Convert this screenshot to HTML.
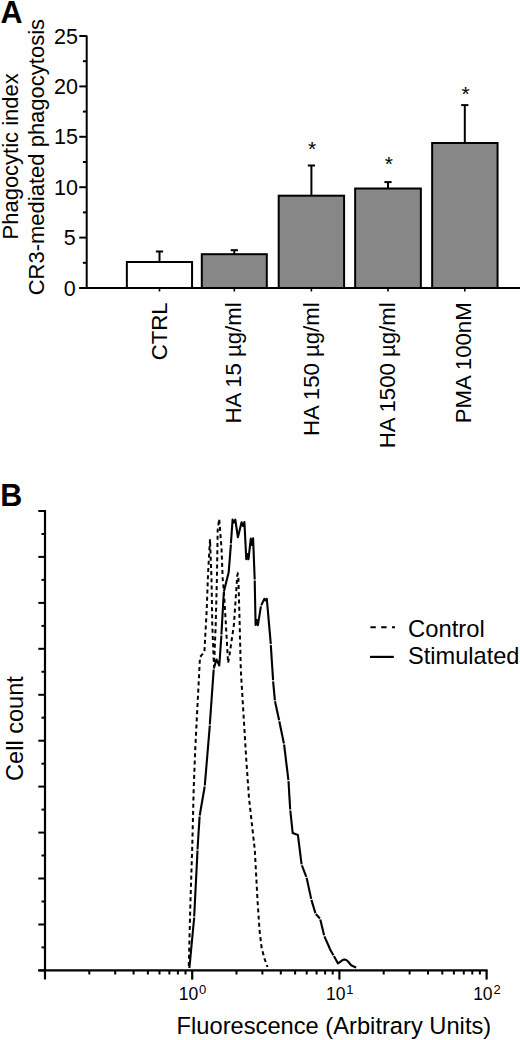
<!DOCTYPE html>
<html><head><meta charset="utf-8"><title>Figure</title>
<style>html,body{margin:0;padding:0;background:#fff;}svg{display:block;}</style></head>
<body><svg width="520" height="1040" viewBox="0 0 520 1040">
<rect width="520" height="1040" fill="#fff"/>
<text x="0.6" y="22.7" font-family="'Liberation Sans', sans-serif" font-weight="bold" font-size="30.5">A</text>
<line x1="86.7" y1="35.5" x2="86.7" y2="289" stroke="#000" stroke-width="2"/>
<line x1="79.3" y1="288.0" x2="86.7" y2="288.0" stroke="#000" stroke-width="2"/>
<text x="75.6" y="295.5" font-family="'Liberation Sans', sans-serif" font-size="21.5" text-anchor="end">0</text>
<line x1="82.9" y1="262.8" x2="86.7" y2="262.8" stroke="#000" stroke-width="2"/>
<line x1="79.3" y1="237.6" x2="86.7" y2="237.6" stroke="#000" stroke-width="2"/>
<text x="75.6" y="245.1" font-family="'Liberation Sans', sans-serif" font-size="21.5" text-anchor="end">5</text>
<line x1="82.9" y1="212.4" x2="86.7" y2="212.4" stroke="#000" stroke-width="2"/>
<line x1="79.3" y1="187.2" x2="86.7" y2="187.2" stroke="#000" stroke-width="2"/>
<text x="78.0" y="194.7" font-family="'Liberation Sans', sans-serif" font-size="21.5" text-anchor="end">10</text>
<line x1="82.9" y1="162.0" x2="86.7" y2="162.0" stroke="#000" stroke-width="2"/>
<line x1="79.3" y1="136.8" x2="86.7" y2="136.8" stroke="#000" stroke-width="2"/>
<text x="78.0" y="144.3" font-family="'Liberation Sans', sans-serif" font-size="21.5" text-anchor="end">15</text>
<line x1="82.9" y1="111.6" x2="86.7" y2="111.6" stroke="#000" stroke-width="2"/>
<line x1="79.3" y1="86.4" x2="86.7" y2="86.4" stroke="#000" stroke-width="2"/>
<text x="78.0" y="93.9" font-family="'Liberation Sans', sans-serif" font-size="21.5" text-anchor="end">20</text>
<line x1="82.9" y1="61.2" x2="86.7" y2="61.2" stroke="#000" stroke-width="2"/>
<line x1="79.3" y1="36.0" x2="86.7" y2="36.0" stroke="#000" stroke-width="2"/>
<text x="78.0" y="43.5" font-family="'Liberation Sans', sans-serif" font-size="21.5" text-anchor="end">25</text>
<line x1="79.3" y1="288.0" x2="520" y2="288.0" stroke="#000" stroke-width="2"/>
<line x1="159.5" y1="262.0" x2="159.5" y2="251.5" stroke="#000" stroke-width="2"/>
<line x1="155.9" y1="251.5" x2="163.1" y2="251.5" stroke="#000" stroke-width="2"/>
<rect x="126.85" y="262.0" width="65.2" height="26.0" fill="#fff" stroke="#000" stroke-width="2"/>
<line x1="159.5" y1="288.0" x2="159.5" y2="291.5" stroke="#000" stroke-width="1.6"/>
<text transform="translate(167.2,302.3) rotate(-90)" font-family="'Liberation Sans', sans-serif" font-size="22.2" text-anchor="end">CTRL</text>
<line x1="234.3" y1="254.2" x2="234.3" y2="250.2" stroke="#000" stroke-width="2"/>
<line x1="230.7" y1="250.2" x2="237.9" y2="250.2" stroke="#000" stroke-width="2"/>
<rect x="201.8" y="254.2" width="65.0" height="33.8" fill="#878787" stroke="#000" stroke-width="2"/>
<line x1="234.3" y1="288.0" x2="234.3" y2="291.5" stroke="#000" stroke-width="1.6"/>
<text transform="translate(240.6,302.3) rotate(-90)" font-family="'Liberation Sans', sans-serif" font-size="22.2" text-anchor="end">HA 15 µg/ml</text>
<line x1="311.4" y1="195.7" x2="311.4" y2="165.5" stroke="#000" stroke-width="2"/>
<line x1="307.8" y1="165.5" x2="315.0" y2="165.5" stroke="#000" stroke-width="2"/>
<rect x="278.7" y="195.7" width="65.4" height="92.3" fill="#878787" stroke="#000" stroke-width="2"/>
<line x1="311.4" y1="288.0" x2="311.4" y2="291.5" stroke="#000" stroke-width="1.6"/>
<text transform="translate(318.6,302.3) rotate(-90)" font-family="'Liberation Sans', sans-serif" font-size="22.2" text-anchor="end">HA 150 µg/ml</text>
<text x="312.2" y="155.7" font-family="'Liberation Sans', sans-serif" font-size="21" text-anchor="middle">*</text>
<line x1="388.0" y1="188.5" x2="388.0" y2="182.1" stroke="#000" stroke-width="2"/>
<line x1="384.4" y1="182.1" x2="391.6" y2="182.1" stroke="#000" stroke-width="2"/>
<rect x="355.15" y="188.5" width="65.7" height="99.5" fill="#878787" stroke="#000" stroke-width="2"/>
<line x1="388.0" y1="288.0" x2="388.0" y2="291.5" stroke="#000" stroke-width="1.6"/>
<text transform="translate(394.5,302.3) rotate(-90)" font-family="'Liberation Sans', sans-serif" font-size="22.2" text-anchor="end">HA 1500 µg/ml</text>
<text x="388.8" y="171.4" font-family="'Liberation Sans', sans-serif" font-size="21" text-anchor="middle">*</text>
<line x1="464.8" y1="143.0" x2="464.8" y2="105.1" stroke="#000" stroke-width="2"/>
<line x1="461.2" y1="105.1" x2="468.4" y2="105.1" stroke="#000" stroke-width="2"/>
<rect x="432.15" y="143.0" width="65.4" height="145.0" fill="#878787" stroke="#000" stroke-width="2"/>
<line x1="464.8" y1="288.0" x2="464.8" y2="291.5" stroke="#000" stroke-width="1.6"/>
<text transform="translate(470.6,302.3) rotate(-90)" font-family="'Liberation Sans', sans-serif" font-size="22.2" text-anchor="end">PMA 100nM</text>
<text x="465.6" y="101.0" font-family="'Liberation Sans', sans-serif" font-size="21" text-anchor="middle">*</text>
<text transform="translate(18.2,239.5) rotate(-90)" font-family="'Liberation Sans', sans-serif" font-size="22">Phagocytic index</text>
<text transform="translate(43.6,295.3) rotate(-90)" font-family="'Liberation Sans', sans-serif" font-size="22">CR3-mediated phagocytosis</text>
<text x="0.3" y="505.8" font-family="'Liberation Sans', sans-serif" font-weight="bold" font-size="30.5">B</text>
<line x1="45.0" y1="510.0" x2="45.0" y2="979.6" stroke="#000" stroke-width="2.2"/>
<line x1="38.3" y1="511.0" x2="45.0" y2="511.0" stroke="#000" stroke-width="2"/>
<line x1="41.5" y1="534.0" x2="45.0" y2="534.0" stroke="#000" stroke-width="2"/>
<line x1="38.3" y1="556.9" x2="45.0" y2="556.9" stroke="#000" stroke-width="2"/>
<line x1="41.5" y1="579.9" x2="45.0" y2="579.9" stroke="#000" stroke-width="2"/>
<line x1="38.3" y1="602.9" x2="45.0" y2="602.9" stroke="#000" stroke-width="2"/>
<line x1="41.5" y1="625.9" x2="45.0" y2="625.9" stroke="#000" stroke-width="2"/>
<line x1="38.3" y1="648.8" x2="45.0" y2="648.8" stroke="#000" stroke-width="2"/>
<line x1="41.5" y1="671.8" x2="45.0" y2="671.8" stroke="#000" stroke-width="2"/>
<line x1="38.3" y1="694.8" x2="45.0" y2="694.8" stroke="#000" stroke-width="2"/>
<line x1="41.5" y1="717.7" x2="45.0" y2="717.7" stroke="#000" stroke-width="2"/>
<line x1="38.3" y1="740.7" x2="45.0" y2="740.7" stroke="#000" stroke-width="2"/>
<line x1="41.5" y1="763.7" x2="45.0" y2="763.7" stroke="#000" stroke-width="2"/>
<line x1="38.3" y1="786.6" x2="45.0" y2="786.6" stroke="#000" stroke-width="2"/>
<line x1="41.5" y1="809.6" x2="45.0" y2="809.6" stroke="#000" stroke-width="2"/>
<line x1="38.3" y1="832.6" x2="45.0" y2="832.6" stroke="#000" stroke-width="2"/>
<line x1="41.5" y1="855.5" x2="45.0" y2="855.5" stroke="#000" stroke-width="2"/>
<line x1="38.3" y1="878.5" x2="45.0" y2="878.5" stroke="#000" stroke-width="2"/>
<line x1="41.5" y1="901.5" x2="45.0" y2="901.5" stroke="#000" stroke-width="2"/>
<line x1="38.3" y1="924.5" x2="45.0" y2="924.5" stroke="#000" stroke-width="2"/>
<line x1="41.5" y1="947.4" x2="45.0" y2="947.4" stroke="#000" stroke-width="2"/>
<line x1="38.3" y1="970.4" x2="45.0" y2="970.4" stroke="#000" stroke-width="2"/>
<line x1="38.3" y1="970.4" x2="487.6" y2="970.4" stroke="#000" stroke-width="2.4"/>
<line x1="89.3" y1="970.4" x2="89.3" y2="974.5" stroke="#000" stroke-width="2"/>
<line x1="115.2" y1="970.4" x2="115.2" y2="974.5" stroke="#000" stroke-width="2"/>
<line x1="133.6" y1="970.4" x2="133.6" y2="974.5" stroke="#000" stroke-width="2"/>
<line x1="147.9" y1="970.4" x2="147.9" y2="974.5" stroke="#000" stroke-width="2"/>
<line x1="159.5" y1="970.4" x2="159.5" y2="974.5" stroke="#000" stroke-width="2"/>
<line x1="169.4" y1="970.4" x2="169.4" y2="974.5" stroke="#000" stroke-width="2"/>
<line x1="177.9" y1="970.4" x2="177.9" y2="974.5" stroke="#000" stroke-width="2"/>
<line x1="185.5" y1="970.4" x2="185.5" y2="974.5" stroke="#000" stroke-width="2"/>
<line x1="236.5" y1="970.4" x2="236.5" y2="974.5" stroke="#000" stroke-width="2"/>
<line x1="262.4" y1="970.4" x2="262.4" y2="974.5" stroke="#000" stroke-width="2"/>
<line x1="280.8" y1="970.4" x2="280.8" y2="974.5" stroke="#000" stroke-width="2"/>
<line x1="295.1" y1="970.4" x2="295.1" y2="974.5" stroke="#000" stroke-width="2"/>
<line x1="306.7" y1="970.4" x2="306.7" y2="974.5" stroke="#000" stroke-width="2"/>
<line x1="316.6" y1="970.4" x2="316.6" y2="974.5" stroke="#000" stroke-width="2"/>
<line x1="325.1" y1="970.4" x2="325.1" y2="974.5" stroke="#000" stroke-width="2"/>
<line x1="332.7" y1="970.4" x2="332.7" y2="974.5" stroke="#000" stroke-width="2"/>
<line x1="383.7" y1="970.4" x2="383.7" y2="974.5" stroke="#000" stroke-width="2"/>
<line x1="409.6" y1="970.4" x2="409.6" y2="974.5" stroke="#000" stroke-width="2"/>
<line x1="428.0" y1="970.4" x2="428.0" y2="974.5" stroke="#000" stroke-width="2"/>
<line x1="442.3" y1="970.4" x2="442.3" y2="974.5" stroke="#000" stroke-width="2"/>
<line x1="453.9" y1="970.4" x2="453.9" y2="974.5" stroke="#000" stroke-width="2"/>
<line x1="463.8" y1="970.4" x2="463.8" y2="974.5" stroke="#000" stroke-width="2"/>
<line x1="472.3" y1="970.4" x2="472.3" y2="974.5" stroke="#000" stroke-width="2"/>
<line x1="479.9" y1="970.4" x2="479.9" y2="974.5" stroke="#000" stroke-width="2"/>
<line x1="192.2" y1="970.4" x2="192.2" y2="979.6" stroke="#000" stroke-width="2.2"/>
<text x="192.5" y="999.9" font-family="'Liberation Sans', sans-serif" font-size="17.5" text-anchor="middle">10<tspan font-size="13" dx="0.8" dy="-6">0</tspan></text>
<line x1="339.4" y1="970.4" x2="339.4" y2="979.6" stroke="#000" stroke-width="2.2"/>
<text x="339.7" y="999.9" font-family="'Liberation Sans', sans-serif" font-size="17.5" text-anchor="middle">10<tspan font-size="13" dx="0.8" dy="-6">1</tspan></text>
<line x1="486.6" y1="970.4" x2="486.6" y2="979.6" stroke="#000" stroke-width="2.2"/>
<text x="486.9" y="999.9" font-family="'Liberation Sans', sans-serif" font-size="17.5" text-anchor="middle">10<tspan font-size="13" dx="0.8" dy="-6">2</tspan></text>
<text x="176.6" y="1034.2" font-family="'Liberation Sans', sans-serif" font-size="23.7">Fluorescence (Arbitrary Units)</text>
<text transform="translate(22.6,781) rotate(-90)" font-family="'Liberation Sans', sans-serif" font-size="23.6">Cell count</text>
<line x1="370.4" y1="627.2" x2="395" y2="627.2" stroke="#000" stroke-width="2" stroke-dasharray="5.4 5.4"/>
<line x1="370" y1="656.9" x2="393.8" y2="656.9" stroke="#000" stroke-width="2.2"/>
<text x="408" y="636.6" font-family="'Liberation Sans', sans-serif" font-size="23.8">Control</text>
<text x="408" y="664.3" font-family="'Liberation Sans', sans-serif" font-size="23.6">Stimulated</text>
<polyline points="188.8,966.0 190.4,902.7 192.3,845.0 193.7,788.5 195.2,750.0 200.0,657.0 204.4,652.0 206.7,610.0 208.0,575.0 210.0,539.2 211.5,579.0 212.3,625.0 213.5,655.0 214.0,667.0 215.7,625.0 216.9,579.0 217.7,530.0 219.2,519.0 221.5,548.0 222.7,579.0 223.8,590.0 225.8,623.0 228.1,663.0 229.8,653.0 233.9,625.0 237.3,575.0 237.8,573.8 238.3,575.0 239.7,625.0 240.8,670.0 246.3,760.0 249.0,798.0 254.8,850.0 257.5,900.0 259.5,930.0 261.5,947.0 264.3,958.0 267.5,967.0" fill="none" stroke="#000" stroke-width="2" stroke-dasharray="4 3.2" stroke-linejoin="miter"/>
<polyline points="189.4,968.0 194.2,917.5" fill="none" stroke="#000" stroke-width="2.1" stroke-linejoin="round"/>
<polyline points="194.2,916.5 197.5,850.5" fill="none" stroke="#000" stroke-width="2.1" stroke-linejoin="round"/>
<polyline points="197.5,849.5 199.6,816.5" fill="none" stroke="#000" stroke-width="2.1" stroke-linejoin="round"/>
<polyline points="199.7,815.5 204.7,786.5" fill="none" stroke="#000" stroke-width="2.1" stroke-linejoin="round"/>
<polyline points="204.8,785.5 209.8,725.5" fill="none" stroke="#000" stroke-width="2.1" stroke-linejoin="round"/>
<polyline points="209.8,724.5 213.7,669.5" fill="none" stroke="#000" stroke-width="2.1" stroke-linejoin="round"/>
<polyline points="213.8,668.5 216.5,659.5 219.3,665.5 221.4,635.5" fill="none" stroke="#000" stroke-width="2.1" stroke-linejoin="round"/>
<polyline points="221.4,634.5 223.8,592.5" fill="none" stroke="#000" stroke-width="2.1" stroke-linejoin="round"/>
<polyline points="223.9,591.5 228.5,573.0 228.8,571.0 230.9,544.5" fill="none" stroke="#000" stroke-width="2.1" stroke-linejoin="round"/>
<polyline points="230.9,543.5 232.6,519.6 233.9,522.5 235.3,519.6 237.9,537.3 241.6,522.2 243.0,526.0 244.4,522.0 246.3,559.2 247.4,554.0 248.5,559.2 250.8,538.6 251.9,545.0 253.1,538.2 254.7,579.5" fill="none" stroke="#000" stroke-width="2.1" stroke-linejoin="round"/>
<polyline points="254.7,580.5 255.6,625.0 256.9,620.0 257.9,625.2 260.9,606.4" fill="none" stroke="#000" stroke-width="2.1" stroke-linejoin="round"/>
<polyline points="261.2,605.4 264.4,598.8 265.5,600.5 266.8,598.8 270.8,644.1" fill="none" stroke="#000" stroke-width="2.1" stroke-linejoin="round"/>
<polyline points="270.8,645.1 273.1,680.3" fill="none" stroke="#000" stroke-width="2.1" stroke-linejoin="round"/>
<polyline points="273.1,681.3 274.9,700.3" fill="none" stroke="#000" stroke-width="2.1" stroke-linejoin="round"/>
<polyline points="275.0,701.3 279.1,720.3" fill="none" stroke="#000" stroke-width="2.1" stroke-linejoin="round"/>
<polyline points="279.3,721.3 283.9,743.5" fill="none" stroke="#000" stroke-width="2.1" stroke-linejoin="round"/>
<polyline points="284.1,744.5 288.4,780.1" fill="none" stroke="#000" stroke-width="2.1" stroke-linejoin="round"/>
<polyline points="288.5,781.1 290.2,809.5" fill="none" stroke="#000" stroke-width="2.1" stroke-linejoin="round"/>
<polyline points="290.3,810.5 292.7,833.1 297.9,835.0 301.6,864.3" fill="none" stroke="#000" stroke-width="2.1" stroke-linejoin="round"/>
<polyline points="301.9,865.3 306.3,876.8" fill="none" stroke="#000" stroke-width="2.1" stroke-linejoin="round"/>
<polyline points="306.6,877.8 311.2,898.9" fill="none" stroke="#000" stroke-width="2.1" stroke-linejoin="round"/>
<polyline points="311.4,899.9 315.4,913.1" fill="none" stroke="#000" stroke-width="2.1" stroke-linejoin="round"/>
<polyline points="315.8,914.0 319.9,918.5" fill="none" stroke="#000" stroke-width="2.1" stroke-linejoin="round"/>
<polyline points="320.3,919.4 324.1,935.3" fill="none" stroke="#000" stroke-width="2.1" stroke-linejoin="round"/>
<polyline points="324.4,936.3 328.9,946.5 330.0,949.2 333.4,955.2" fill="none" stroke="#000" stroke-width="2.1" stroke-linejoin="round"/>
<polyline points="333.9,956.0 338.0,963.4 342.3,960.3 344.2,959.4 346.3,960.0 347.8,961.2 351.2,965.2 353.7,966.5 356.2,967.4" fill="none" stroke="#000" stroke-width="2.1" stroke-linejoin="round"/>
</svg></body></html>
